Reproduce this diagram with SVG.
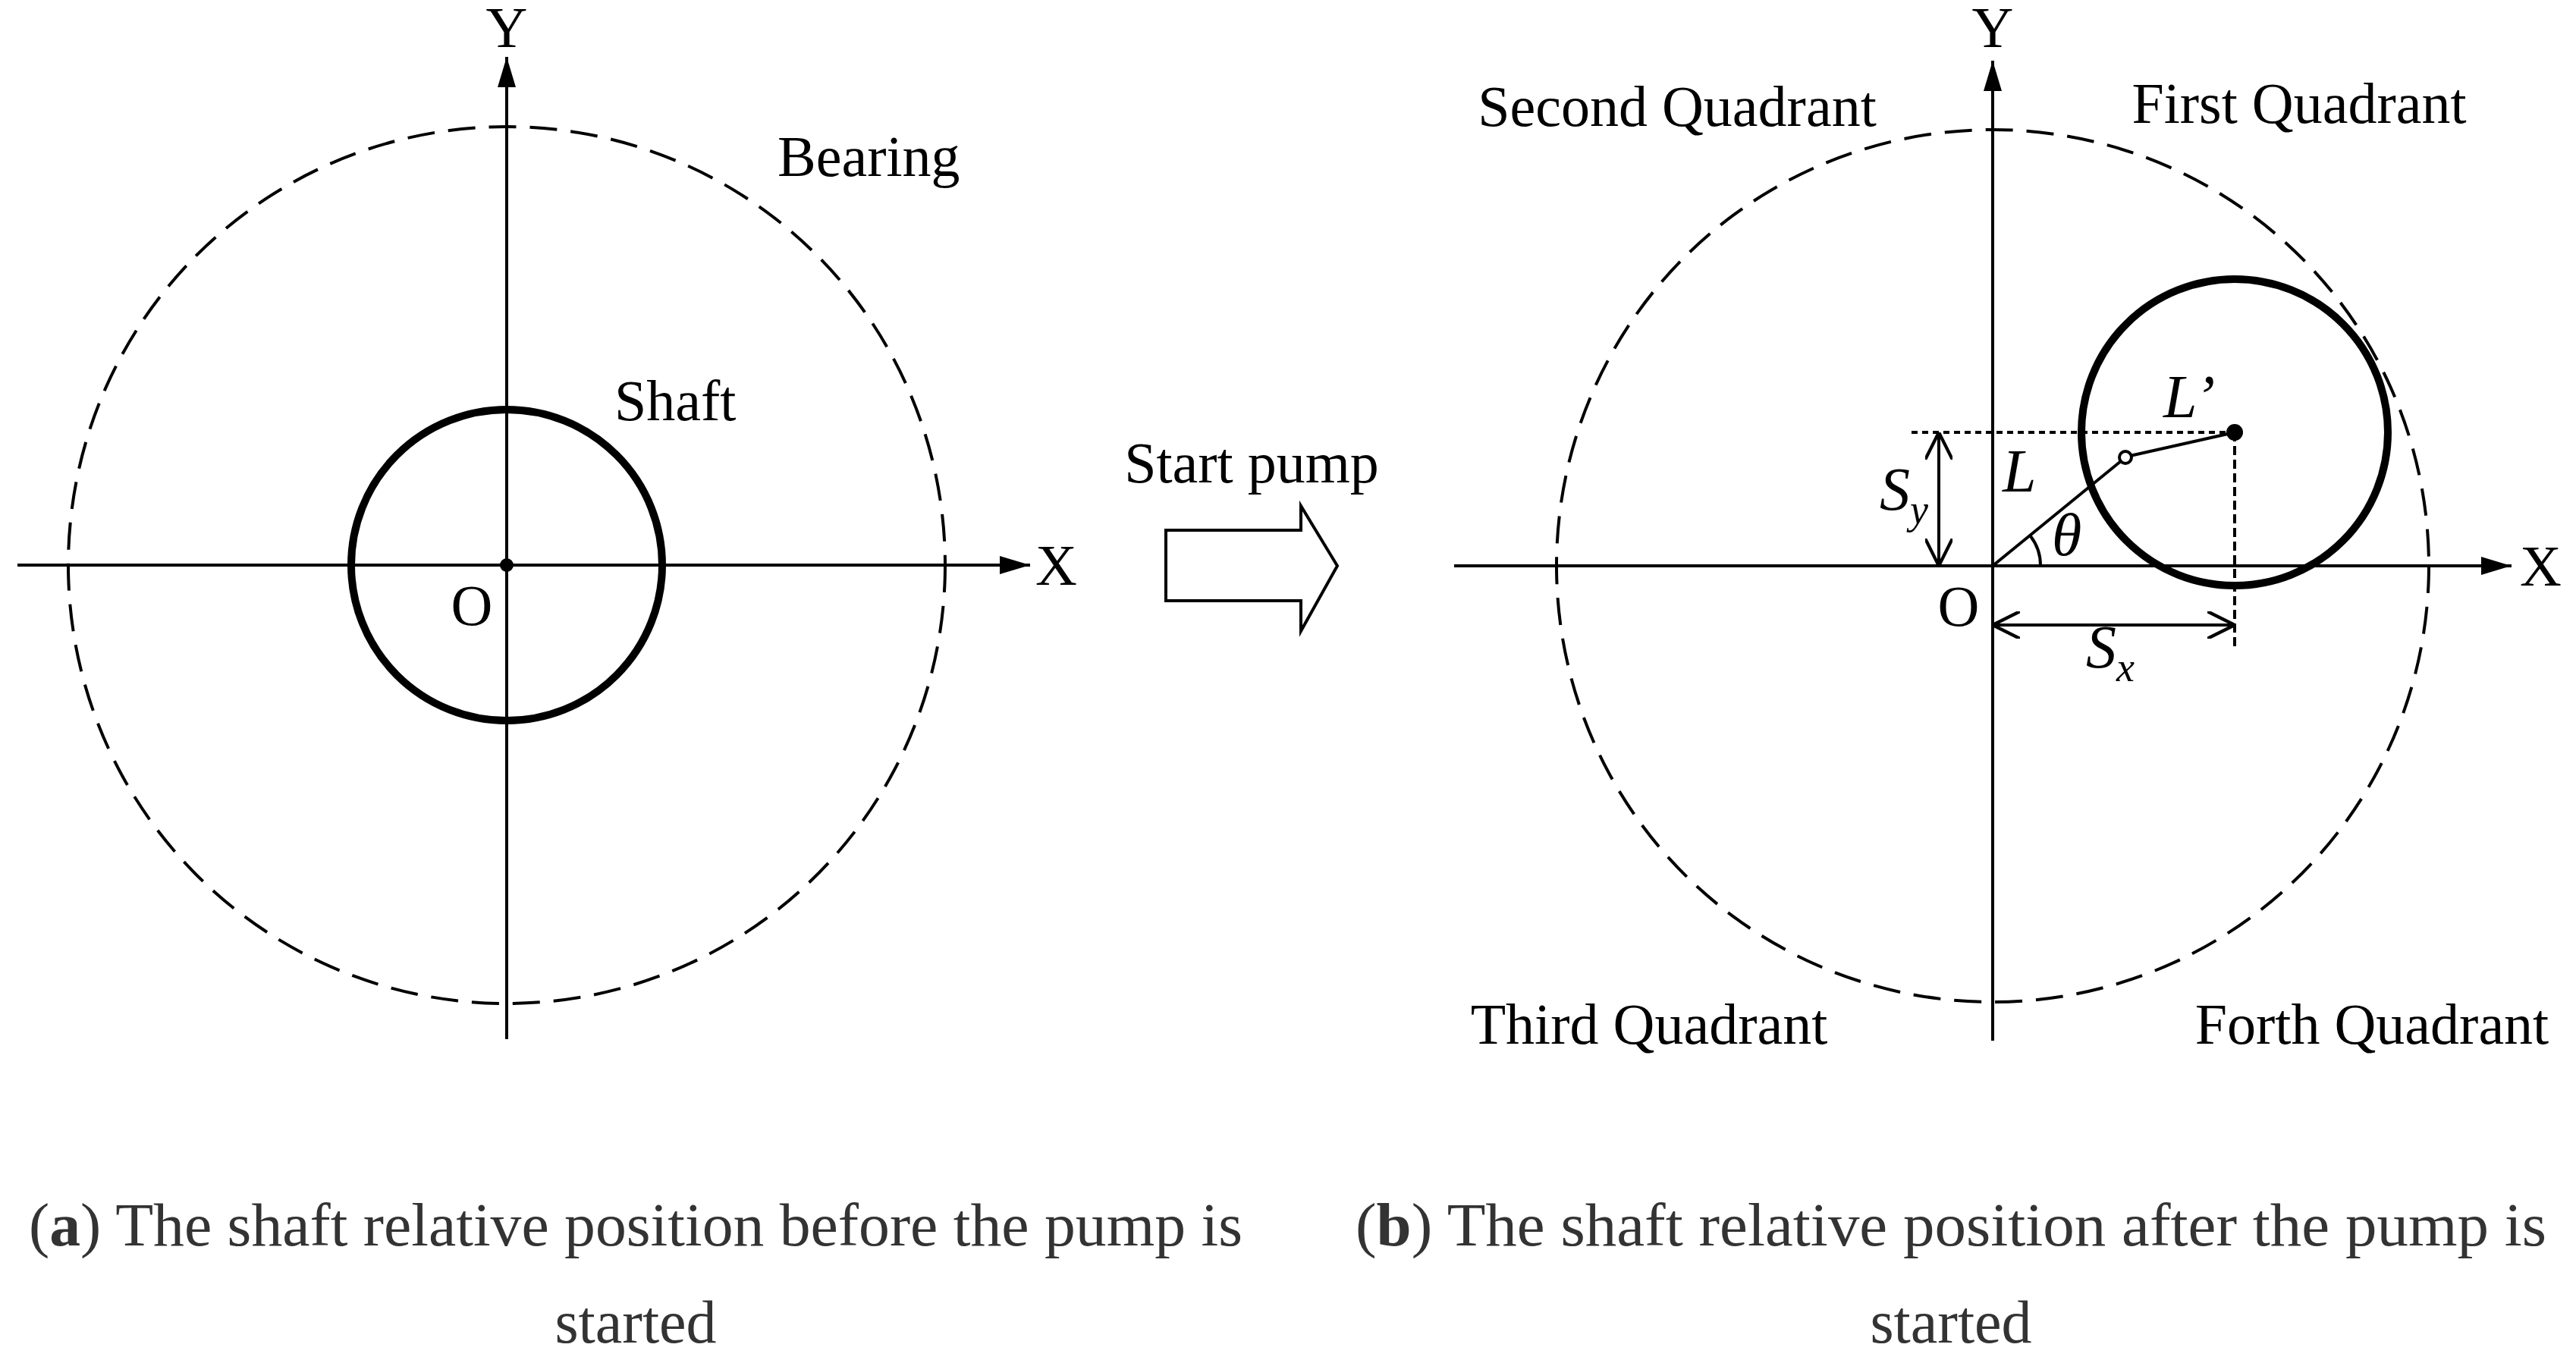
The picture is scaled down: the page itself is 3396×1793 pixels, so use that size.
<svg xmlns="http://www.w3.org/2000/svg" width="3396" height="1793" viewBox="0 0 3396 1793">
<style>
text{font-family:"Liberation Serif","Times New Roman",serif;fill:#000}
.t{font-size:76px}
.i{font-size:80px;font-style:italic}
.cap{font-size:80px;text-anchor:middle;fill:#333}
.ax{stroke:#000;stroke-width:4;fill:none}
.brg{stroke:#000;stroke-width:4;fill:none;stroke-dasharray:36 18}
.sh{stroke:#000;stroke-width:10;fill:none}
</style>
<defs>
<marker id="big" viewBox="0 0 10 10" refX="10" refY="5" markerWidth="40" markerHeight="24" markerUnits="userSpaceOnUse" orient="auto" preserveAspectRatio="none"><path d="M0,0 L10,5 L0,10 z" fill="#000"/></marker>
<marker id="open" viewBox="0 0 10 10" refX="10" refY="5" markerWidth="36" markerHeight="36" markerUnits="userSpaceOnUse" orient="auto"><path d="M0,0 L10,5 L0,10" fill="none" stroke="#000" stroke-width="1.2"/></marker>
</defs>
<g id="panel-a">
<circle class="brg" cx="668" cy="745" r="578"/>
<g id="connectors-a">
<line class="ax" x1="23" y1="745" x2="1358" y2="745" marker-end="url(#big)"/>
<line class="ax" x1="668" y1="1370" x2="668" y2="75" marker-end="url(#big)"/>
</g>
<circle class="sh" cx="668" cy="745" r="205"/>
<circle cx="668" cy="745" r="9" fill="#000"/>
<text class="t" x="668" y="62" text-anchor="middle">Y</text>
<text class="t" x="1365" y="771">X</text>
<text class="t" x="622" y="824" text-anchor="middle">O</text>
<text class="t" x="1025" y="232">Bearing</text>
<text class="t" x="810" y="554">Shaft</text>
</g>
<g id="start-pump">
<text class="t" x="1650" y="636" text-anchor="middle">Start pump</text>
<path d="M1537,699 H1715 V667 L1763,746 L1715,832 V792 H1537 Z" fill="#fff" stroke="#000" stroke-width="4"/>
</g>
<g id="panel-b">
<circle class="brg" cx="2627" cy="746" r="575"/>
<g id="connectors-b">
<line class="ax" x1="1917" y1="746" x2="3311" y2="746" marker-end="url(#big)"/>
<line class="ax" x1="2627" y1="1372" x2="2627" y2="80" marker-end="url(#big)"/>
<line class="ax" x1="2520" y1="570" x2="2946" y2="570" stroke-dasharray="8 6"/>
<line class="ax" x1="2946" y1="570" x2="2946" y2="852" stroke-dasharray="12 6"/>
<line class="ax" x1="2556" y1="746" x2="2556" y2="570" marker-end="url(#open)"/>
<line class="ax" x1="2556" y1="570" x2="2556" y2="746" marker-end="url(#open)"/>
<line class="ax" x1="2627" y1="824" x2="2946" y2="824" marker-end="url(#open)"/>
<line class="ax" x1="2946" y1="824" x2="2627" y2="824" marker-end="url(#open)"/>
<line class="ax" x1="2627" y1="746" x2="2796" y2="608"/>
<line class="ax" x1="2808" y1="601" x2="2946" y2="570"/>
<path class="ax" d="M2690,746 A63,63 0 0 0 2677,707"/>
</g>
<circle class="sh" cx="2946" cy="570" r="202"/>
<circle cx="2946" cy="570" r="11" fill="#000"/>
<circle cx="2802" cy="603" r="8" fill="#fff" stroke="#000" stroke-width="4"/>
<text class="t" x="2627" y="62" text-anchor="middle">Y</text>
<text class="t" x="3322" y="772">X</text>
<text class="t" x="2582" y="825" text-anchor="middle">O</text>
<text class="i" x="2640" y="648">L</text>
<text class="i" x="2852" y="550">L’</text>
<text class="i" x="2705" y="732">θ</text>
<text class="i" x="2478" y="672">S<tspan font-size="54" dy="18">y</tspan></text>
<text class="i" x="2750" y="880">S<tspan font-size="54" dy="18">x</tspan></text>
<text class="t" x="2211" y="166" text-anchor="middle">Second Quadrant</text>
<text class="t" x="3031" y="162" text-anchor="middle">First Quadrant</text>
<text class="t" x="2174" y="1376" text-anchor="middle">Third Quadrant</text>
<text class="t" x="3127" y="1376" text-anchor="middle">Forth Quadrant</text>
</g>
<g id="captions">
<text class="cap" x="838" y="1642" textLength="1600" lengthAdjust="spacingAndGlyphs">(<tspan font-weight="bold">a</tspan>) The shaft relative position before the pump is</text>
<text class="cap" x="838" y="1770">started</text>
<text class="cap" x="2572" y="1642" textLength="1570" lengthAdjust="spacingAndGlyphs">(<tspan font-weight="bold">b</tspan>) The shaft relative position after the pump is</text>
<text class="cap" x="2572" y="1770">started</text>
</g>
</svg>
